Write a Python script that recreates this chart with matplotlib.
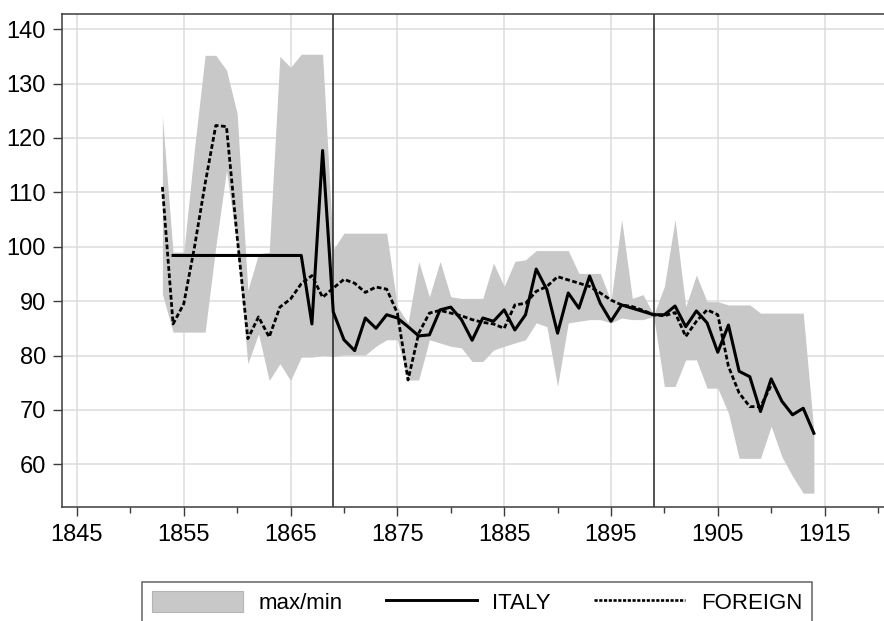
"""
Price index of Italy vs foreign suppliers, with the max/min band of the
individual series. Two vertical markers split the period in three.
"""

import matplotlib
matplotlib.use("Agg")
import matplotlib.pyplot as plt
import numpy as np
from matplotlib.lines import Line2D
from matplotlib.patches import Patch
from matplotlib.ticker import FixedLocator

plt.rcParams["font.family"] = ["Liberation Sans", "DejaVu Sans"]

# ---- data ---------------------------------------------------------------
years = np.arange(1853, 1915)

band_max = [
    124.0, 99.0, 99.0, 118.0, 135.2, 135.2, 132.5,              # 1853-59
    124.5, 92.0, 98.7, 99.0, 135.0, 133.0, 135.4, 135.4, 135.4, 99.5,  # 1860-69
    102.5, 102.5, 102.5, 102.5, 102.5, 89.0, 86.0, 97.3, 90.8, 97.3,  # 1870-79
    90.8, 90.5, 90.5, 90.5, 97.0, 92.7, 97.3, 97.6, 99.3, 99.3,       # 1880-89
    99.3, 99.3, 95.1, 95.1, 95.1, 90.0, 105.0, 90.5, 91.2, 87.5,      # 1890-99
    92.7, 105.0, 89.0, 94.8, 89.9, 89.9, 89.3, 89.3, 89.3, 87.8,      # 1900-09
    87.8, 87.8, 87.8, 87.8, 66.0,                                     # 1910-14
]
band_min = [
    91.3, 84.3, 84.3, 84.3, 84.3, 100.0, 114.0,                       # 1853-59
    100.0, 78.5, 84.0, 75.4, 78.5, 75.4, 79.7, 79.7, 80.0, 79.8,      # 1860-69
    80.1, 80.1, 80.1, 81.7, 82.9, 82.9, 75.5, 75.5, 82.9, 82.3,       # 1870-79
    81.7, 81.4, 78.9, 78.9, 81.0, 81.7, 82.3, 82.9, 86.0, 85.3,       # 1880-89
    74.3, 86.0, 86.3, 86.6, 86.6, 86.0, 86.9, 86.6, 86.6, 87.2,       # 1890-99
    74.3, 74.3, 79.2, 79.2, 74.0, 74.0, 69.4, 61.1, 61.1, 61.1,       # 1900-09
    67.0, 61.4, 57.8, 54.7, 54.7,                                     # 1910-14
]

italy_years = np.arange(1854, 1915)
italy = [
    98.4, 98.4, 98.4, 98.4, 98.4, 98.4,                               # 1854-59
    98.4, 98.4, 98.4, 98.4, 98.4, 98.4, 98.4, 85.8, 117.7, 88.0,      # 1860-69
    82.9, 80.9, 86.9, 85.0, 87.5, 86.9, 85.3, 83.6, 83.8, 88.4,       # 1870-79
    88.9, 86.6, 82.8, 86.9, 86.3, 88.4, 84.7, 87.5, 95.9, 92.1,       # 1880-89
    84.1, 91.5, 88.7, 94.6, 89.6, 86.3, 89.3, 88.7, 88.1, 87.5,       # 1890-99
    87.5, 89.1, 85.3, 88.2, 86.0, 80.6, 85.6, 77.1, 76.1, 69.7,       # 1900-09
    75.7, 71.6, 69.1, 70.3, 65.7,                                     # 1910-14
]

foreign_years = np.arange(1853, 1911)
foreign = [
    111.0, 85.8, 89.5, 99.9, 111.6, 122.3, 122.1,                     # 1853-59
    101.8, 83.1, 87.1, 83.4, 88.9, 90.4, 93.2, 94.7, 90.7, 92.4,      # 1860-69
    94.0, 93.3, 91.6, 92.6, 92.2, 87.8, 75.5, 84.1, 87.8, 88.3,       # 1870-79
    87.8, 87.3, 86.6, 86.1, 85.8, 85.0, 89.3, 89.6, 91.8, 92.7,       # 1880-89
    94.5, 93.9, 93.3, 92.7, 91.5, 90.2, 89.3, 89.0, 88.3, 87.5,       # 1890-99
    87.3, 87.9, 83.5, 86.3, 88.4, 87.5, 78.0, 73.1, 70.6, 70.6,       # 1900-09
    74.5,                                                             # 1910
]

breaks = [1869, 1899]
x_major = [1845, 1855, 1865, 1875, 1885, 1895, 1905, 1915]
x_minor = [1850, 1860, 1870, 1880, 1890, 1900, 1910, 1920]
y_major = [60, 70, 80, 90, 100, 110, 120, 130, 140]

BAND = "#c8c8c8"
DARK = "#3c3c3c"

# ---- figure ---------------------------------------------------------------
W, H = 884, 621
fig = plt.figure(figsize=(W / 100, H / 100), dpi=100)
ax = fig.add_axes([62 / W, 114.3 / H, 832 / W, 492.7 / H])

ax.fill_between(years, band_min, band_max, color=BAND, linewidth=0, zorder=1)
for b in breaks:
    ax.axvline(b, color="#222222", linewidth=1.1, zorder=2)
ax.plot(italy_years, italy, color="black", linewidth=2.2, zorder=3,
        solid_joinstyle="round")
ax.plot(foreign_years, foreign, color="black", linewidth=2.0,
        linestyle=(0, (1.7, 0.9)), zorder=3)

ax.set_xlim(1843.6, 1921.5)
ax.set_ylim(52.2, 142.8)
ax.xaxis.set_major_locator(FixedLocator(x_major))
ax.xaxis.set_minor_locator(FixedLocator(x_minor))
ax.set_yticks(y_major)

ax.set_axisbelow(True)
ax.grid(True, which="major", color="#dcdcdc", linewidth=1.1)
for s in ax.spines.values():
    s.set_color(DARK)
    s.set_linewidth(1.1)

ax.tick_params(which="major", direction="out", length=6.5, width=1.0,
               color=DARK, labelsize=17, labelcolor="black")
ax.tick_params(which="minor", direction="out", length=4.2, width=1.0,
               color=DARK)
ax.tick_params(axis="x", which="major", pad=6)
ax.tick_params(axis="y", which="major", pad=5)

handles = [
    Patch(facecolor=BAND, edgecolor="#b4b4b4", linewidth=0.8),
    Line2D([], [], color="black", linewidth=2.1),
    Line2D([], [], color="black", linewidth=1.9, linestyle=(0, (1.2, 0.6))),
]
leg = fig.legend(handles, ["max/min", "ITALY", "FOREIGN"],
                 loc="upper center", bbox_to_anchor=(477 / W, 1 - 582 / H),
                 ncol=3, fontsize=16, frameon=True, fancybox=False,
                 handlelength=4.1, handleheight=1.05, handletextpad=0.7,
                 columnspacing=1.95, borderpad=0.42, borderaxespad=0.0)
leg.get_frame().set_edgecolor(DARK)
leg.get_frame().set_linewidth(1.1)

fig.savefig("out.png", dpi=100, facecolor="white")
plt.close(fig)
